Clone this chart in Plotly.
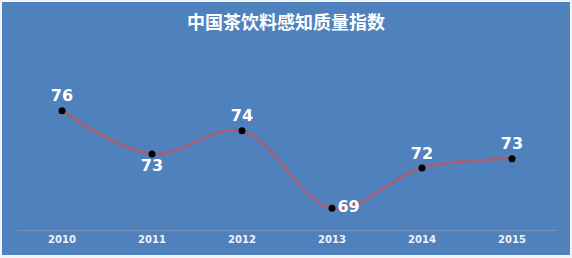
import plotly.graph_objects as go

# Data
years = ["2010", "2011", "2012", "2013", "2014", "2015"]
index_values = [75.7, 72.9, 74.4, 69.4, 72.0, 72.6]
title_text = "中国茶饮料感知质量指数"

# Styles
label_positions = ["top center", "bottom center", "top center", "middle right", "top center", "top center"]

W, H = 572, 258
ml, mr, mt, mb = 17, 15, 50, 28
pw, ph = W - ml - mr, H - mt - mb

def px_x(p):
    return (p - ml) / pw

def px_y(p):
    return (H - mb - p) / ph

fig = go.Figure()
fig.add_trace(go.Scatter(
    x=years,
    y=index_values,
    mode="lines+markers+text",
    line=dict(color="#a95d6e", width=2.5, shape="spline", smoothing=1.0),
    marker=dict(color="black", size=7),
    texttemplate="%{y:.0f}",
    textposition=label_positions,
    textfont=dict(family="DejaVu Sans", size=16, color="white", weight="bold"),
    cliponaxis=False,
    hoverinfo="skip",
))

fig.add_shape(
    type="rect", xref="paper", yref="paper",
    x0=px_x(2), x1=px_x(570), y0=px_y(255), y1=px_y(2),
    fillcolor="#4f81bd", line=dict(width=0), layer="below",
)

fig.update_layout(
    width=W, height=H,
    margin=dict(l=ml, r=mr, t=mt, b=mb),
    paper_bgcolor="#f2f5f9",
    plot_bgcolor="rgba(0,0,0,0)",
    showlegend=False,
    title=dict(
        text=title_text,
        x=0.5, xanchor="center",
        y=1 - 22.5 / H, yanchor="middle", yref="container",
        font=dict(family="Noto Sans CJK SC", size=18, color="white", weight="bold"),
    ),
    xaxis=dict(
        type="category",
        range=[-0.5, 5.5],
        showgrid=False,
        zeroline=False,
        showline=True,
        linecolor="#7890b4",
        linewidth=1,
        ticks="",
        tickfont=dict(family="DejaVu Sans", size=10, color="#eef2f8", weight="bold"),
    ),
    yaxis=dict(
        range=[68, 68 + ph / 15.5],
        showgrid=False,
        zeroline=False,
        showline=False,
        showticklabels=False,
        ticks="",
    ),
)

fig.write_html("out.html")
